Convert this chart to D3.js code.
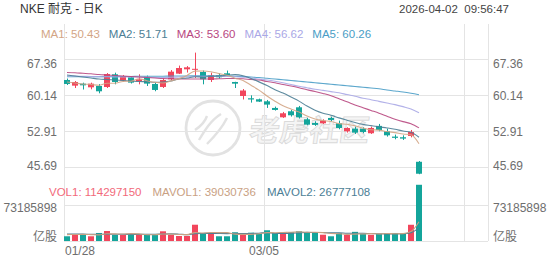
<!DOCTYPE html>
<html>
<head>
<meta charset="utf-8">
<script src="https://cdn.jsdelivr.net/npm/d3@7"></script>
<style>
  html, body { margin: 0; padding: 0; background: #fff; }
  svg { display: block; font-family: "Liberation Sans", Arial, "Noto Sans CJK SC", sans-serif; }
  .pre { white-space: pre; }
</style>
</head>
<body>
<svg id="chart"></svg>
<script>
// ---- data ----
const dates = ["01/28","01/29","01/30","02/02","02/03","02/04","02/05","02/06","02/09","02/10",
  "02/11","02/12","02/13","02/17","02/18","02/19","02/20","02/23","02/24","02/25",
  "02/26","02/27","03/02","03/03","03/04","03/05","03/06","03/09","03/10","03/11",
  "03/12","03/13","03/16","03/17","03/18","03/19","03/20","03/23","03/24","03/25",
  "03/26","03/27","03/30","03/31","04/01"];
const open = [63.21,62.07,62.47,61.74,62.0,61.8,64.35,63.08,63.75,62.95,63.88,62.41,61.81,63.35,64.48,65.35,65.3,64.81,63.21,64.15,64.55,62.81,60.0,59.54,59.34,58.93,57.6,55.72,56.93,57.73,55.32,54.59,54.52,55.59,54.52,52.91,53.45,53.45,52.52,54.0,52.92,51.85,51.72,51.98,46.8];
const high = [63.5,63.0,62.67,62.67,62.4,64.6,64.68,64.2,63.9,64.35,64.1,62.67,63.48,65.2,66.1,66.0,68.7,65.1,64.68,64.55,65.1,62.85,61.4,60.14,59.47,59.2,57.87,56.8,57.2,58.0,55.6,54.92,55.32,55.85,55.06,53.72,53.85,53.72,53.85,54.39,53.45,52.25,52.11,53.18,46.95];
const low = [62.2,61.6,61.3,61.34,60.54,61.6,62.34,62.9,62.5,62.34,62.0,60.95,61.6,63.15,64.4,64.7,63.6,62.34,62.81,63.48,63.9,61.6,59.3,58.67,58.8,57.6,57.07,55.6,55.87,55.47,54.12,54.0,54.39,54.92,53.32,52.65,52.38,52.52,52.38,52.92,51.85,51.31,51.18,51.7,44.3];
const close = [62.41,62.81,62.14,62.47,60.94,64.4,62.81,64.0,62.68,63.35,62.48,61.21,63.21,64.88,65.61,65.75,65.45,63.35,64.15,63.75,64.15,62.47,61.1,59.3,58.87,58.27,57.2,56.53,56.13,55.72,54.25,54.2,55.06,55.19,53.58,53.58,52.65,52.78,53.58,53.18,52.11,51.6,51.45,52.78,44.4];
const volume = [9600000,13600000,13600000,9600000,16300000,20300000,12200000,12200000,13600000,13600000,
  12200000,12200000,19700000,12200000,10200000,10200000,33100000,16300000,16300000,9600000,
  9600000,17700000,13600000,16900000,15700000,21800000,16300000,16300000,18300000,19700000,
  18300000,16300000,12800000,9600000,16300000,12600000,18600000,14400000,12600000,14400000,
  15800000,16300000,15800000,33000000,114297150];

const ma1 = [62.8,62.6,62.4,62.3,62.15,62.55,62.55,62.92,62.97,63.45,63.06,62.74,62.59,63.03,63.48,64.13,64.98,65.01,64.86,64.49,64.17,63.57,63.12,62.15,61.18,60.0,58.95,58.03,57.4,56.77,55.97,55.37,55.07,54.88,54.46,54.32,54.01,53.56,53.23,53.15,52.86,52.65,52.38,52.22,50.43];
const ma2 = [64.2,64.0,63.8,63.6,63.4,63.3,63.2,63.1,63.0,62.9,62.85,62.75,62.8,63.0,63.46,63.6,63.86,63.8,63.94,63.98,64.15,64.28,64.07,63.51,62.83,62.09,61.26,60.58,59.78,58.97,57.98,57.16,56.55,56.14,55.61,55.14,54.69,54.31,54.06,53.81,53.59,53.33,52.97,52.73,51.71];
const ma3 = [64.7,64.65,64.55,64.45,64.3,64.2,64.1,64.0,63.9,63.8,63.7,63.6,63.5,63.45,63.4,63.4,63.4,63.4,63.4,63.45,63.5,63.5,63.45,63.3,63.2,62.9,62.65,62.3,62.0,61.65,61.25,60.9,60.5,60.05,59.45,58.85,58.2,57.65,57.1,56.55,55.95,55.35,54.85,54.45,53.6];
const ma4 = [64.0,64.0,63.95,63.9,63.85,63.85,63.8,63.8,63.8,63.8,63.75,63.7,63.7,63.75,63.8,63.85,63.9,63.9,63.9,63.9,63.9,63.85,63.75,63.6,63.4,63.2,62.95,62.65,62.3,61.95,61.65,61.36,61.12,60.88,60.64,60.28,59.94,59.56,59.26,58.92,58.58,58.26,57.86,57.4,56.62];
const ma5 = [63.85,63.85,63.85,63.85,63.85,63.9,63.9,63.9,63.9,63.95,63.95,63.95,63.95,64.0,64.0,64.0,64.05,64.05,64.05,64.05,64.0,63.95,63.9,63.8,63.7,63.55,63.4,63.25,63.1,62.95,62.8,62.65,62.5,62.35,62.2,62.05,61.9,61.75,61.6,61.45,61.2,61.0,60.8,60.55,60.26];
const mavol1 = [13000000,13200000,13400000,13000000,12500000,14700000,14400000,14100000,14900000,14400000,12800000,12800000,14300000,14000000,13300000,12900000,17100000,16400000,17200000,17100000,17000000,13900000,13400000,13500000,14700000,17100000,16900000,17400000,17700000,18500000,17800000,17800000,17100000,15300000,14700000,13500000,14000000,14300000,14900000,14500000,15200000,14700000,15000000,19100000,39030736];
const mavol2 = [14000000,14000000,13900000,13800000,13700000,13700000,13600000,13600000,13500000,13500000,13750000,13600000,14200000,14450000,13850000,12850000,14950000,15350000,15600000,15200000,14950000,15500000,14900000,15350000,15900000,17050000,15400000,15400000,15600000,16600000,17450000,17350000,17250000,16500000,16600000,15650000,15900000,15700000,15100000,14600000,14350000,14350000,14650000,17000000,26777108];

const priceTicks = [67.36, 60.14, 52.91, 45.69];
const volTicks = [73185898];
const dateTicks = ["01/28", "03/05"];
const maLabels = ["MA1: 50.43", "MA2: 51.71", "MA3: 53.60", "MA4: 56.62", "MA5: 60.26"];
const volLabels = ["VOL1: 114297150", "MAVOL1: 39030736", "MAVOL2: 26777108"];

// ---- layout ----
const W = 552, H = 265;
const padL = 64, padR = 488, padT = 24, padB = 241;
const up = "#f2465c", down = "#14a59b", grid = "#e4e4e4", axisText = "#6e6e6e";
const maColors = ["#d3a585", "#4c7e95", "#b8477f", "#aaa8e6", "#4a9dc6"];
const volLabelColors = ["#f2697a", "#c9a183", "#4c7e95"];

const svg = d3.select("#chart").attr("width", W).attr("height", H);

const x = d3.scaleBand().domain(dates).range([padL, padL + 8 * 44.75])
  .paddingInner(0.25).paddingOuter(0);
const bw = x.bandwidth();
const cx = (d) => x(d) + bw / 2;

const y = d3.scaleLinear().domain([45.69, 67.36]).range([167.3, 59.3]);
const yv = d3.scaleLinear().domain([0, 73185898]).range([padB, 205]);

// ---- watermark ----
const wm = svg.append("g").attr("transform", "translate(213,128)");
wm.append("circle").attr("r", 27).attr("fill", "none")
  .attr("stroke", "#e2e2e2").attr("stroke-width", 2.8);
wm.append("path").attr("d", "M-14,12 C-8,2 -2,-8 8,-14 M-6,16 C2,8 10,-2 14,-10 M-18,2 C-12,-2 -8,-6 -6,-12")
  .attr("fill", "none").attr("stroke", "#e2e2e2").attr("stroke-width", 2.4);
svg.append("text").attr("x", 250).attr("y", 141)
  .attr("transform", "skewX(-8)").attr("dx", 18)
  .attr("font-family", "Noto Sans CJK SC").attr("font-size", 30).attr("font-weight", 700)
  .attr("fill", "#f5f5f5").attr("stroke", "#dadada").attr("stroke-width", 0.9)
  .text("老虎社区");

// ---- grid ----
const gx = [0, 25, 50].map((k) => x(dates[0]) + k * x.step());
gx.push(padR);
svg.append("g").selectAll("line").data(gx).join("line")
  .attr("x1", (d) => Math.round(d) + 0.5).attr("x2", (d) => Math.round(d) + 0.5)
  .attr("y1", padT).attr("y2", padB)
  .attr("stroke", grid);
svg.append("g").selectAll("line").data(priceTicks).join("line")
  .attr("x1", padL).attr("x2", padR)
  .attr("y1", (d) => Math.round(y(d)) + 0.5).attr("y2", (d) => Math.round(y(d)) + 0.5)
  .attr("stroke", grid);
svg.append("g").selectAll("line").data([0, ...volTicks]).join("line")
  .attr("x1", padL).attr("x2", padR)
  .attr("y1", (d) => Math.round(yv(d)) + 0.5).attr("y2", (d) => Math.round(yv(d)) + 0.5)
  .attr("stroke", grid);

// ---- candles ----
const bars = dates.map((d, i) => ({ d, o: open[i], h: high[i], l: low[i], c: close[i], v: volume[i] }));
const col = (b) => (b.c >= b.o ? up : down);

const cg = svg.append("g");
cg.selectAll("line").data(bars).join("line")
  .attr("x1", (b) => Math.floor(cx(b.d)) + 0.5).attr("x2", (b) => Math.floor(cx(b.d)) + 0.5)
  .attr("y1", (b) => y(b.h)).attr("y2", (b) => y(b.l))
  .attr("stroke", col);
cg.selectAll("rect").data(bars).join("rect")
  .attr("x", (b) => x(b.d)).attr("width", bw)
  .attr("y", (b) => y(Math.max(b.o, b.c)))
  .attr("height", (b) => Math.max(1, Math.abs(y(b.o) - y(b.c))))
  .attr("fill", col);

// MA lines
const maLine = d3.line().x((v, i) => cx(dates[i])).y((v) => y(v)).curve(d3.curveMonotoneX);
[ma5, ma4, ma3, ma2, ma1].forEach((s, k) => {
  svg.append("path").attr("d", maLine(s)).attr("fill", "none")
    .attr("stroke", maColors[4 - k]).attr("stroke-width", 1.1).attr("opacity", 0.9);
});

// ---- volume ----
svg.append("g").selectAll("rect").data(bars).join("rect")
  .attr("x", (b) => x(b.d)).attr("width", bw)
  .attr("y", (b) => yv(b.v)).attr("height", (b) => yv(0) - yv(b.v))
  .attr("fill", col);
const volLine = d3.line().x((v, i) => cx(dates[i])).y((v) => yv(v)).curve(d3.curveMonotoneX);
[mavol2, mavol1].forEach((s, k) => {
  svg.append("path").attr("d", volLine(s)).attr("fill", "none")
    .attr("stroke", k === 0 ? volLabelColors[2] : volLabelColors[1]).attr("stroke-width", 1.1);
});

// ---- axis labels ----
const labY = (v) => Math.max(64, Math.min(165.5, y(v))) + 4.3;
const axisG = svg.append("g").attr("font-size", 12).attr("fill", axisText);
axisG.selectAll(".pl").data(priceTicks).join("text").attr("class", "pl")
  .attr("x", 57).attr("y", labY).attr("text-anchor", "end").text((d) => d.toFixed(2));
axisG.selectAll(".pr").data(priceTicks).join("text").attr("class", "pr")
  .attr("x", 493).attr("y", labY).text((d) => d.toFixed(2));
volTicks.forEach((v) => {
  axisG.append("text").attr("x", 57).attr("y", yv(v) + 7.3).attr("text-anchor", "end").text(v);
  axisG.append("text").attr("x", 493).attr("y", yv(v) + 7.3).text(v);
});
axisG.append("text").attr("x", 57).attr("y", 241).attr("text-anchor", "end").text("亿股");
axisG.append("text").attr("x", 493).attr("y", 241).text("亿股");

dateTicks.forEach((d, i) => {
  axisG.append("text")
    .attr("x", i === 0 ? padL + 1 : x(d))
    .attr("y", 254.5)
    .attr("text-anchor", i === 0 ? "start" : "middle")
    .text(d);
});

// ---- header texts ----
svg.append("text").attr("x", 20).attr("y", 13).attr("font-size", 12).attr("fill", "#333")
  .text("NKE 耐克 - 日K");
svg.append("text").attr("class", "pre").attr("x", 509).attr("y", 13).attr("text-anchor", "end")
  .attr("font-size", 11.5).attr("fill", "#444").text("2026-04-02  09:56:47");

let mx = 41;
maLabels.forEach((t, i) => {
  const el = svg.append("text").attr("x", mx).attr("y", 38).attr("font-size", 11.5)
    .attr("fill", maColors[i]).text(t);
  mx += el.node().getComputedTextLength() + 9;
});
let vx = 49;
volLabels.forEach((t, i) => {
  const el = svg.append("text").attr("x", vx).attr("y", 196).attr("font-size", 11.5)
    .attr("fill", volLabelColors[i]).text(t);
  vx += el.node().getComputedTextLength() + 11;
});
</script>
</body>
</html>
